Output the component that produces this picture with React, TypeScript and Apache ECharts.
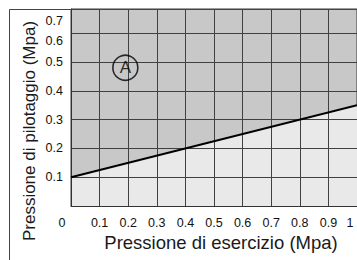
import { useEffect, useRef } from "react";
import * as echarts from "echarts";

const xTicks = [0, 0.1, 0.2, 0.3, 0.4, 0.5, 0.6, 0.7, 0.8, 0.9, 1];
const boundaryX = [0, 1];
const boundaryY = [0.1, 0.35];
const yLabelsLower = [0.1, 0.2, 0.3, 0.4, 0.5];
const yLabelsUpper = [0.6, 0.7];
const zoneNames = ["A"];
const zoneX = [0.19];
const zoneY = [0.48];
const xTitle = "Pressione di esercizio (Mpa)";
const yTitle = "Pressione di pilotaggio (Mpa)";

const FONT = "Liberation Sans";
const LABEL = "#111";

export default function App() {
  const ref = useRef<HTMLDivElement>(null);
  useEffect(() => {
    if (!ref.current) return;
    const chart = echarts.init(ref.current, undefined, { renderer: "svg" });
    const boundary = boundaryX.map((x, i) => [x, boundaryY[i]]);
    chart.setOption({
      animation: false,
      backgroundColor: "#ffffff",
      grid: {
        left: 71,
        top: 9,
        width: 290,
        height: 197,
        show: true,
        backgroundColor: "#c8c8c8",
        borderColor: "#3a3a3a",
        borderWidth: 1,
      },
      xAxis: {
        type: "value",
        min: xTicks[0],
        max: xTicks[xTicks.length - 1],
        interval: 0.1,
        z: 3,
        axisLine: { show: true, lineStyle: { color: "#333", width: 1 } },
        axisTick: { show: false },
        splitLine: { show: true, lineStyle: { color: "#404040", width: 1 } },
        axisLabel: {
          margin: 10,
          color: LABEL,
          fontSize: 12.5,
          fontFamily: FONT,
          showMaxLabel: true,
          formatter: (v: number) => {
            if (Math.abs(v) < 1e-9) return "{z|0}";
            if (Math.abs(v - 1) < 1e-9) return "{o|1}";
            return v.toFixed(1);
          },
          rich: {
            z: { padding: [0, 18, 0, 0], fontSize: 12.5, fontFamily: FONT, color: LABEL },
            o: { padding: [0, 14, 0, 0], fontSize: 12.5, fontFamily: FONT, color: LABEL },
          },
        },
      },
      yAxis: [
        {
          type: "value",
          min: 0,
          max: 0.684,
          interval: 0.1,
          position: "left",
          z: 3,
          axisLine: { show: true, lineStyle: { color: "#333", width: 1 } },
          axisTick: { show: false },
          splitLine: { show: true, lineStyle: { color: "#404040", width: 1 } },
          axisLabel: {
            customValues: yLabelsLower,
            margin: 8,
            color: LABEL,
            fontSize: 12.5,
            fontFamily: FONT,
            formatter: (v: number) => v.toFixed(1),
          },
        },
        {
          type: "value",
          min: -0.225,
          max: 0.76,
          position: "left",
          z: 3,
          axisLine: { show: false },
          axisTick: { show: false },
          splitLine: { show: false },
          axisLabel: {
            customValues: yLabelsUpper,
            margin: 8,
            color: LABEL,
            fontSize: 12.5,
            fontFamily: FONT,
            formatter: (v: number) => v.toFixed(1),
          },
        },
      ],
      series: [
        {
          type: "line",
          data: boundary,
          symbol: "none",
          z: 1,
          lineStyle: { width: 0 },
          areaStyle: { color: "#e9e9e9", opacity: 1 },
          silent: true,
        },
        {
          type: "line",
          data: boundary,
          symbol: "none",
          z: 5,
          lineStyle: { color: "#000", width: 2 },
        },
        {
          type: "scatter",
          data: zoneNames.map((n, i) => ({ name: n, value: [zoneX[i], zoneY[i]] })),
          symbol: "circle",
          symbolSize: 25,
          z: 6,
          itemStyle: { color: "rgba(0,0,0,0)", borderColor: "#000", borderWidth: 1.6 },
          label: {
            show: true,
            position: "inside",
            formatter: (p: any) => p.name,
            color: "#000",
            fontSize: 17,
            fontFamily: FONT,
          },
        },
      ],
      graphic: [
        {
          type: "rect",
          shape: { x: 9.5, y: 9.5, width: 400, height: 300 },
          style: { fill: "none", stroke: "#444", lineWidth: 1 },
          z: 10,
          silent: true,
        },
        {
          type: "text",
          x: 221,
          y: 242,
          style: {
            text: xTitle,
            fontSize: 18.5,
            fontFamily: FONT,
            fill: "#1a1a1a",
            align: "center",
            verticalAlign: "middle",
          },
        },
        {
          type: "text",
          x: 29,
          y: 131,
          rotation: Math.PI / 2,
          style: {
            text: yTitle,
            fontSize: 17,
            fontFamily: FONT,
            fill: "#1a1a1a",
            align: "center",
            verticalAlign: "middle",
          },
        },
      ],
    });
    return () => chart.dispose();
  }, []);
  return (
    <div
      ref={ref}
      style={{ position: "fixed", left: 0, top: 0, width: 357, height: 260 }}
    />
  );
}
